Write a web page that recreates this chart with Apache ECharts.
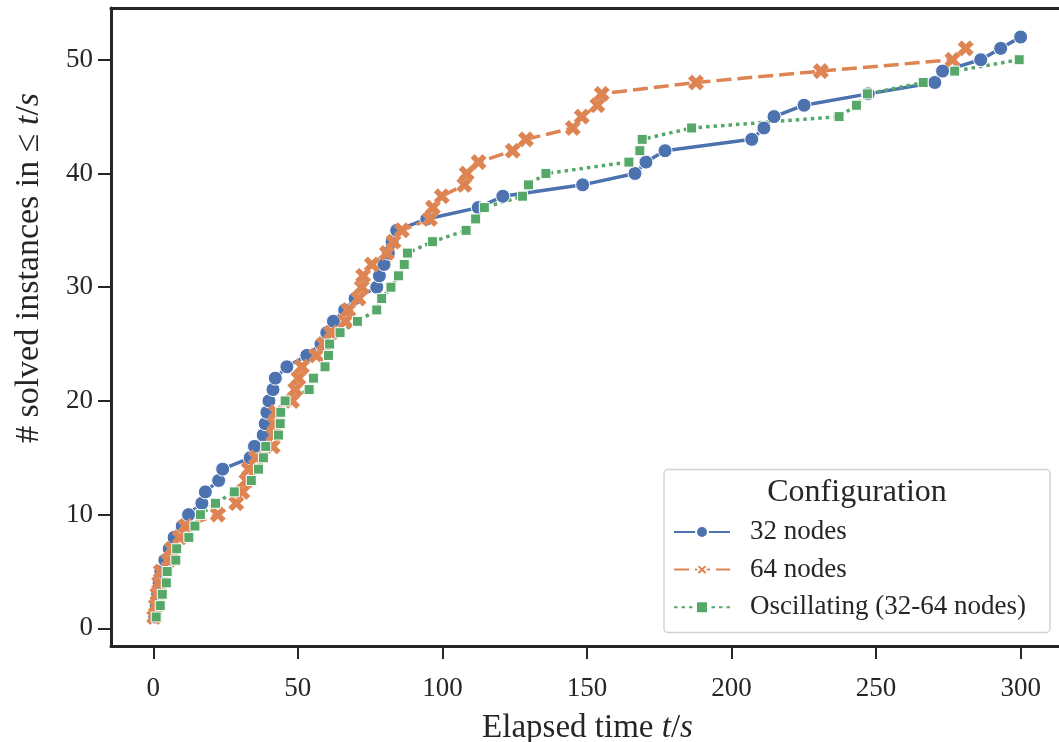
<!DOCTYPE html>
<html>
<head>
<meta charset="utf-8">
<script src="https://cdn.jsdelivr.net/npm/echarts@6/dist/echarts.min.js"></script>
<style>html,body{margin:0;padding:0;background:#fff}#c{width:1059px;height:742px;background:#fff}</style>
</head>
<body>
<div id="c"></div>
<script>
// ---- data ----
const seriesNames = ['32 nodes', '64 nodes', 'Oscillating (32-64 nodes)'];

const time32 = [0.5, 1.0, 1.5, 2.0, 2.6, 4.0, 5.5, 7.2, 10.0, 12.2,
  16.8, 18.0, 22.6, 24.0, 33.5, 35.0, 38.0, 38.7, 39.3, 40.0,
  41.4, 42.2, 46.2, 53.1, 58.0, 60.0, 62.3, 66.2, 69.8, 77.3,
  78.2, 79.8, 81.3, 82.6, 84.2, 94.6, 112.4, 120.9, 148.5, 166.6,
  170.4, 177.0, 207.0, 211.2, 214.7, 225.1, 247.3, 270.3, 273.0, 286.2,
  293.1, 300.0];
const solved32 = [1, 2, 3, 4, 5, 6, 7, 8, 9, 10,
  11, 12, 13, 14, 15, 16, 17, 18, 19, 20,
  21, 22, 23, 24, 25, 26, 27, 28, 29, 30,
  31, 32, 33, 34, 35, 36, 37, 38, 39, 40,
  41, 42, 43, 44, 45, 46, 47, 48, 49, 50,
  51, 52];

const time64 = [0.3, 0.9, 1.4, 2.0, 2.6, 5.3, 6.5, 9.2, 11.2, 22.3,
  28.7, 30.8, 32.2, 33.0, 35.6, 41.3, 41.6, 42.0, 42.5, 48.0,
  49.1, 50.2, 51.4, 56.4, 59.0, 61.5, 66.5, 67.5, 71.0, 72.1,
  72.6, 75.6, 80.8, 83.1, 86.0, 95.7, 96.7, 99.8, 107.6, 108.4,
  112.5, 124.3, 128.9, 145.1, 148.2, 153.6, 155.1, 187.7, 230.9, 276.4,
  281.0];
const solved64 = [1, 2, 3, 4, 5, 6, 7, 8, 9, 10,
  11, 12, 13, 14, 15, 16, 17, 18, 19, 20,
  21, 22, 23, 24, 25, 26, 27, 28, 29, 30,
  31, 32, 33, 34, 35, 36, 37, 38, 39, 40,
  41, 42, 43, 44, 45, 46, 47, 48, 49, 50,
  51];

const timeOsc = [1.0, 2.4, 3.1, 4.5, 4.8, 7.8, 8.1, 12.3, 14.4, 16.3,
  21.5, 28.0, 33.9, 36.4, 38.1, 38.9, 43.3, 43.9, 44.1, 45.6,
  53.9, 55.4, 59.4, 60.6, 61.0, 64.6, 70.6, 77.3, 79.0, 82.2,
  84.8, 86.8, 87.9, 96.6, 108.2, 111.5, 114.5, 127.7, 129.8, 135.8,
  164.5, 168.3, 169.1, 186.2, 237.2, 243.2, 247.0, 266.3, 277.2, 299.5];
const solvedOsc = [1, 2, 3, 4, 5, 6, 7, 8, 9, 10,
  11, 12, 13, 14, 15, 16, 17, 18, 19, 20,
  21, 22, 23, 24, 25, 26, 27, 28, 29, 30,
  31, 32, 33, 34, 35, 36, 37, 38, 39, 40,
  41, 42, 43, 44, 45, 46, 47, 48, 49, 50];

const xTicks = [0, 50, 100, 150, 200, 250, 300];
const yTicks = [0, 10, 20, 30, 40, 50];

// ---- build chart ----
const FONT = '"Liberation Serif", "DejaVu Serif", serif';
const INK = '#262626';
const BLUE = '#4C72B0', ORANGE = '#DD8452', GREEN = '#55A868';

function pairs(xs, ys) { return xs.map((x, i) => [x, ys[i]]); }

const xPath = 'path://M-1.15,-3.4L1.15,-3.4L1.15,-1.15L3.4,-1.15L3.4,1.15L1.15,1.15L1.15,3.4L-1.15,3.4L-1.15,1.15L-3.4,1.15L-3.4,-1.15L-1.15,-1.15Z';

const chart = echarts.init(document.getElementById('c'));
chart.setOption({
  animation: false,
  grid: {left: 111, top: 8, right: -5, bottom: 96, outerBoundsMode: 'none'},
  xAxis: [{
    type: 'value', min: -14.63, max: 315,
    axisLine: {show: true, onZero: false, lineStyle: {color: INK, width: 3}},
    splitLine: {show: false},
    axisTick: {show: true, length: 13, lineStyle: {color: INK, width: 2}, customValues: xTicks},
    axisLabel: {show: true, margin: 29, color: INK, fontFamily: FONT, fontSize: 27, customValues: xTicks},
    name: '{n|Elapsed time }{i|t}{n|/}{i|s}',
    nameLocation: 'middle', nameGap: 66,
    nameTextStyle: {
      rich: {
        n: {fontFamily: FONT, fontSize: 33, color: INK},
        i: {fontFamily: FONT, fontSize: 33, color: INK, fontStyle: 'italic'}
      }
    }
  }, {
    type: 'value', min: -14.63, max: 315, position: 'top',
    axisLine: {show: true, onZero: false, lineStyle: {color: INK, width: 3}},
    axisTick: {show: false}, axisLabel: {show: false}, splitLine: {show: false}
  }],
  yAxis: {
    type: 'value', min: -1.55, max: 54.55,
    axisLine: {show: true, onZero: false, lineStyle: {color: INK, width: 3}},
    splitLine: {show: false},
    axisTick: {show: true, length: 13, lineStyle: {color: INK, width: 2}, customValues: yTicks},
    axisLabel: {show: true, margin: 18, color: INK, fontFamily: FONT, fontSize: 27, customValues: yTicks}
  },
  legend: {
    data: seriesNames,
    orient: 'vertical',
    left: 668, top: 513.5,
    itemWidth: 56, itemHeight: 15, itemGap: 10.6,
    z: 10,
    textStyle: {fontFamily: FONT, fontSize: 27, color: INK, lineHeight: 27, padding: [0, 0, 0, 15]}
  },
  graphic: [
    {
      type: 'rect', z: 5, silent: true,
      shape: {x: 664, y: 469.5, width: 386, height: 163, r: 4},
      style: {fill: 'rgba(255,255,255,0.85)', stroke: '#d3d3d3', lineWidth: 1.5}
    },
    {
      type: 'text', z: 6, silent: true,
      x: 857, y: 493,
      style: {text: 'Configuration', fontFamily: FONT, fontSize: 32, fill: INK, align: 'center', verticalAlign: 'middle'}
    },
    {
      type: 'text', z: 6, silent: true,
      x: 29, y: 268, rotation: Math.PI / 2,
      style: {
        text: '{n|# solved instances in ≤ }{i|t}{n|/}{i|s}',
        align: 'center', verticalAlign: 'middle',
        rich: {
          n: {fontFamily: FONT, fontSize: 34, fill: INK},
          i: {fontFamily: FONT, fontSize: 34, fill: INK, fontStyle: 'italic'}
        }
      }
    }
  ],
  series: [
    {
      name: seriesNames[0], type: 'line', data: pairs(time32, solved32),
      symbol: 'circle', symbolSize: 14, showSymbol: true,
      lineStyle: {color: BLUE, width: 3.5, type: 'solid'},
      itemStyle: {color: BLUE, borderColor: '#fff', borderWidth: 1},
      emphasis: {disabled: true}
    },
    {
      name: seriesNames[1], type: 'line', data: pairs(time64, solved64),
      symbol: xPath, symbolSize: 17, symbolRotate: 45, showSymbol: true,
      lineStyle: {color: ORANGE, width: 3.5, type: [15, 6]},
      itemStyle: {color: ORANGE, borderColor: '#fff', borderWidth: 0.15},
      emphasis: {disabled: true}
    },
    {
      name: seriesNames[2], type: 'line', data: pairs(timeOsc, solvedOsc),
      symbol: 'rect', symbolSize: 10, showSymbol: true,
      lineStyle: {color: GREEN, width: 3.5, type: [3.5, 4]},
      itemStyle: {color: GREEN, borderColor: '#fff', borderWidth: 1},
      emphasis: {disabled: true}
    }
  ]
});
</script>
</body>
</html>
